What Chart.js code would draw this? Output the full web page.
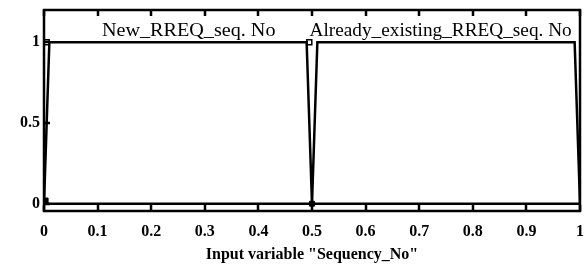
<!DOCTYPE html>
<html>
<head>
<meta charset="utf-8">
<script src="https://cdn.jsdelivr.net/npm/chart.js@4/dist/chart.umd.min.js"></script>
<style>
  html, body { margin: 0; padding: 0; background: #fff; }
  #wrap { width: 587px; height: 264px; }
</style>
</head>
<body>
<div id="wrap"><canvas id="mfChart"></canvas></div>
<script>
// Membership functions for input "Sequency_No"
const mfNames = ['New_RREQ_seq. No', 'Already_existing_RREQ_seq. No'];
const mfCenters = [0.27, 0.74];
const newX = [0, 0.01, 0.49, 0.5, 1];
const newY = [0, 1, 1, 0, 0];
const oldX = [0, 0.5, 0.51, 0.99, 1];
const oldY = [0, 0, 1, 1, 0];
const openMarkX = [0.005, 0.495];
const openMarkY = [1, 1];
const fillMarkX = [0.003, 0.5];
const fillMarkY = [0.02, 0];
const xTicks = [0, 0.1, 0.2, 0.3, 0.4, 0.5, 0.6, 0.7, 0.8, 0.9, 1];
const yTicks = [0, 0.5, 1];

const pts = (xs, ys) => xs.map((x, i) => ({ x, y: ys[i] }));
const FONT = '"Liberation Serif", "DejaVu Serif", serif';

// frame, inner ticks and MF labels
const frame = {
  id: 'frame',
  afterDraw(chart) {
    const { ctx, chartArea: a, scales: { x, y } } = chart;
    ctx.save();
    ctx.strokeStyle = '#000';
    ctx.lineWidth = 2.5;
    ctx.strokeRect(a.left, a.top, a.right - a.left, a.bottom - a.top);
    ctx.beginPath();
    xTicks.forEach(v => {
      const px = Math.round(x.getPixelForValue(v));
      ctx.moveTo(px, a.bottom); ctx.lineTo(px, a.bottom - 6);
      ctx.moveTo(px, a.top); ctx.lineTo(px, a.top + 6);
    });
    yTicks.forEach(v => {
      const py = Math.round(y.getPixelForValue(v));
      ctx.moveTo(a.left, py); ctx.lineTo(a.left + 6, py);
    });
    ctx.stroke();
    ctx.fillStyle = '#000';
    ctx.font = '18px ' + FONT;
    ctx.textAlign = 'center';
    ctx.textBaseline = 'alphabetic';
    mfNames.forEach((n, i) => {
      const cx = x.getPixelForValue(mfCenters[i]);
      const by = y.getPixelForValue(1.04);
      ctx.save();
      ctx.translate(cx, by);
      ctx.scale(i ? 1.07 : 1.12, 1);
      ctx.fillText(n, 0, 0);
      ctx.restore();
    });
    ctx.restore();
  }
};

new Chart(document.getElementById('mfChart'), {
  type: 'scatter',
  data: {
    datasets: [
      { data: pts(newX, newY), showLine: true, borderColor: '#000', borderWidth: 2.5, pointRadius: 0, tension: 0 },
      { data: pts(oldX, oldY), showLine: true, borderColor: '#000', borderWidth: 2.5, pointRadius: 0, tension: 0 },
      { data: pts(openMarkX, openMarkY), pointStyle: 'rect', pointRadius: 3.5, backgroundColor: '#fff', borderColor: '#000', borderWidth: 1.5 },
      { data: pts(fillMarkX, fillMarkY), pointStyle: 'rect', pointRadius: 3.5, backgroundColor: '#000', borderColor: '#000', borderWidth: 1 },
    ],
  },
  options: {
    responsive: true,
    maintainAspectRatio: false,
    animation: false,
    layout: { padding: { left: 0, right: 0, top: 10, bottom: 0 } },
    plugins: { legend: { display: false }, tooltip: { enabled: false } },
    scales: {
      x: {
        type: 'linear', min: 0, max: 1,
        afterBuildTicks: s => { s.ticks = xTicks.map(v => ({ value: v })); },
        afterFit: s => { s.height = 53; s.paddingRight = 7; },
        grid: { display: false, drawTicks: false },
        border: { display: false },
        ticks: { color: '#000', padding: 11, maxRotation: 0, font: { family: FONT, size: 16, weight: 'bold' }, callback: v => String(v) },
        title: { display: true, text: 'Input variable "Sequency_No"', color: '#000', padding: { top: 0, bottom: 0 }, font: { family: FONT, size: 16, weight: 'bold' } },
      },
      y: {
        type: 'linear', min: -0.045, max: 1.2,
        afterBuildTicks: s => { s.ticks = yTicks.map(v => ({ value: v })); },
        afterFit: s => { s.width = 44; s.paddingTop = 0; s.paddingBottom = 0; },
        grid: { display: false, drawTicks: false },
        border: { display: false },
        ticks: { color: '#000', padding: 4, font: { family: FONT, size: 16, weight: 'bold' }, callback: v => String(v) },
      },
    },
  },
  plugins: [frame],
});
</script>
</body>
</html>
